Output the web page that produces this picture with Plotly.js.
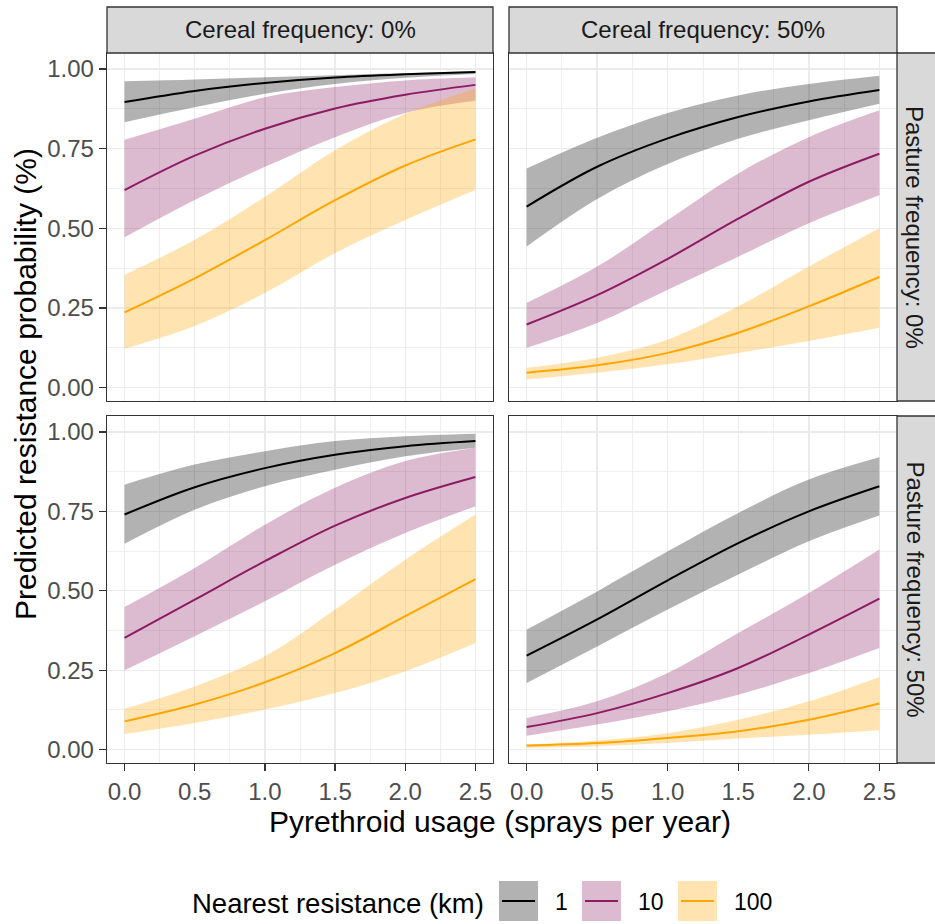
<!DOCTYPE html>
<html>
<head>
<meta charset="utf-8">
<script src="https://cdn.plot.ly/plotly-3.0.1.min.js"></script>
<style>html,body{margin:0;padding:0;background:#fff}</style>
</head>
<body>
<div id="chart" style="width:935px;height:924px"></div>
<script>
// ---- data ----
const usage = [0, 0.5, 1.0, 1.5, 2.0, 2.5];
const distances = ['1', '10', '100'];
const cerealLabels = ['Cereal frequency: 0%', 'Cereal frequency: 50%'];
const pastureLabels = ['Pasture frequency: 0%', 'Pasture frequency: 50%'];
const xTicks = [0, 0.5, 1.0, 1.5, 2.0, 2.5];
const yTicks = [0, 0.25, 0.5, 0.75, 1.0];

// Cereal 0%, Pasture 0%
const fit_c0_p0_d1   = [0.896, 0.931, 0.956, 0.973, 0.983, 0.990];
const lo_c0_p0_d1    = [0.833, 0.880, 0.922, 0.953, 0.972, 0.984];
const hi_c0_p0_d1    = [0.961, 0.967, 0.974, 0.980, 0.987, 0.993];
const fit_c0_p0_d10  = [0.620, 0.728, 0.8125, 0.876, 0.919, 0.950];
const lo_c0_p0_d10   = [0.472, 0.589, 0.693, 0.786, 0.862, 0.900];
const hi_c0_p0_d10   = [0.778, 0.844, 0.911, 0.943, 0.964, 0.974];
const fit_c0_p0_d100 = [0.236, 0.343, 0.463, 0.588, 0.697, 0.779];
const lo_c0_p0_d100  = [0.122, 0.193, 0.297, 0.422, 0.526, 0.620];
const hi_c0_p0_d100  = [0.354, 0.464, 0.599, 0.745, 0.859, 0.9375];

// Cereal 50%, Pasture 0%
const fit_c50_p0_d1   = [0.568, 0.693, 0.782, 0.849, 0.898, 0.934];
const lo_c50_p0_d1    = [0.443, 0.592, 0.702, 0.781, 0.839, 0.891];
const hi_c50_p0_d1    = [0.6875, 0.784, 0.862, 0.917, 0.953, 0.979];
const fit_c50_p0_d10  = [0.198, 0.290, 0.404, 0.530, 0.646, 0.734];
const lo_c50_p0_d10   = [0.125, 0.203, 0.307, 0.411, 0.516, 0.604];
const hi_c50_p0_d10   = [0.266, 0.380, 0.526, 0.672, 0.786, 0.870];
const fit_c50_p0_d100 = [0.047, 0.070, 0.109, 0.172, 0.255, 0.347];
const lo_c50_p0_d100  = [0.026, 0.047, 0.073, 0.109, 0.146, 0.1875];
const hi_c50_p0_d100  = [0.0625, 0.094, 0.151, 0.255, 0.380, 0.500];

// Cereal 0%, Pasture 50%
const fit_c0_p50_d1   = [0.740, 0.826, 0.886, 0.928, 0.955, 0.971];
const lo_c0_p50_d1    = [0.648, 0.755, 0.829, 0.881, 0.923, 0.950];
const hi_c0_p50_d1    = [0.834, 0.897, 0.939, 0.971, 0.986, 0.994];
const fit_c0_p50_d10  = [0.352, 0.472, 0.593, 0.705, 0.792, 0.858];
const lo_c0_p50_d10   = [0.250, 0.357, 0.467, 0.582, 0.682, 0.766];
const hi_c0_p50_d10   = [0.449, 0.572, 0.708, 0.824, 0.908, 0.950];
const fit_c0_p50_d100 = [0.089, 0.142, 0.212, 0.304, 0.420, 0.537];
const lo_c0_p50_d100  = [0.049, 0.084, 0.126, 0.178, 0.247, 0.336];
const hi_c0_p50_d100  = [0.129, 0.199, 0.294, 0.441, 0.598, 0.740];

// Cereal 50%, Pasture 50%
const fit_c50_p50_d1   = [0.296, 0.410, 0.533, 0.650, 0.750, 0.829];
const lo_c50_p50_d1    = [0.210, 0.325, 0.441, 0.551, 0.656, 0.737];
const hi_c50_p50_d1    = [0.378, 0.498, 0.624, 0.745, 0.850, 0.920];
const fit_c50_p50_d10  = [0.071, 0.115, 0.178, 0.257, 0.362, 0.475];
const lo_c50_p50_d10   = [0.044, 0.079, 0.121, 0.173, 0.241, 0.320];
const hi_c50_p50_d10   = [0.100, 0.152, 0.241, 0.367, 0.493, 0.630];
const fit_c50_p50_d100 = [0.013, 0.021, 0.037, 0.058, 0.094, 0.145];
const lo_c50_p50_d100  = [0.005, 0.0105, 0.021, 0.035, 0.047, 0.061];
const hi_c50_p50_d100  = [0.016, 0.029, 0.052, 0.094, 0.152, 0.229];

// ---- styling ----
const FONT = 'Liberation Sans, Arial, Helvetica, sans-serif';
const lineColors = ['#000000', '#8B1C62', '#FFA500'];
const fillColors = ['rgba(0,0,0,0.3)', 'rgba(139,28,98,0.3)', 'rgba(255,165,0,0.3)'];

const panels = [
  {xa: 'x',  ya: 'y',  fit: [fit_c0_p0_d1, fit_c0_p0_d10, fit_c0_p0_d100], lo: [lo_c0_p0_d1, lo_c0_p0_d10, lo_c0_p0_d100], hi: [hi_c0_p0_d1, hi_c0_p0_d10, hi_c0_p0_d100]},
  {xa: 'x2', ya: 'y2', fit: [fit_c50_p0_d1, fit_c50_p0_d10, fit_c50_p0_d100], lo: [lo_c50_p0_d1, lo_c50_p0_d10, lo_c50_p0_d100], hi: [hi_c50_p0_d1, hi_c50_p0_d10, hi_c50_p0_d100]},
  {xa: 'x3', ya: 'y3', fit: [fit_c0_p50_d1, fit_c0_p50_d10, fit_c0_p50_d100], lo: [lo_c0_p50_d1, lo_c0_p50_d10, lo_c0_p50_d100], hi: [hi_c0_p50_d1, hi_c0_p50_d10, hi_c0_p50_d100]},
  {xa: 'x4', ya: 'y4', fit: [fit_c50_p50_d1, fit_c50_p50_d10, fit_c50_p50_d100], lo: [lo_c50_p50_d1, lo_c50_p50_d10, lo_c50_p50_d100], hi: [hi_c50_p50_d1, hi_c50_p50_d10, hi_c50_p50_d100]}
];

const traces = [];
panels.forEach(p => {
  distances.forEach((d, i) => {
    traces.push({x: usage, y: p.lo[i], xaxis: p.xa, yaxis: p.ya, mode: 'lines',
      line: {width: 0, shape: 'spline', smoothing: 1}, hoverinfo: 'skip', showlegend: false});
    traces.push({x: usage, y: p.hi[i], xaxis: p.xa, yaxis: p.ya, mode: 'lines', fill: 'tonexty',
      fillcolor: fillColors[i], line: {width: 0, shape: 'spline', smoothing: 1}, hoverinfo: 'skip', showlegend: false});
  });
  distances.forEach((d, i) => {
    traces.push({x: usage, y: p.fit[i], xaxis: p.xa, yaxis: p.ya, mode: 'lines', name: d,
      line: {color: lineColors[i], width: 2, shape: 'spline', smoothing: 1}, showlegend: false});
  });
});

// ---- layout ----
const W = 935, H = 924;
const px = v => v / W;
const py = v => 1 - v / H;
const colX = [[107, 493], [509, 897]];
const rowY = [[53, 401], [416, 763]];

const grid = {showgrid: true, gridcolor: '#ebebeb', gridwidth: 1.4, zeroline: false,
  showline: true, mirror: true, linecolor: '#333333', linewidth: 1.3,
  tickfont: {family: FONT, size: 24, color: '#4d4d4d'}, tickcolor: '#333333', ticklen: 7, tickwidth: 1.3};

function xax(col, row) {
  const bottom = row === 1;
  return Object.assign({}, grid, {
    domain: [px(colX[col][0]), px(colX[col][1])], range: [-0.125, 2.625],
    anchor: ['y', 'y2', 'y3', 'y4'][row * 2 + col],
    tickmode: 'array', tickvals: xTicks, ticktext: xTicks.map(v => v.toFixed(1)),
    ticks: bottom ? 'outside' : '', showticklabels: bottom,
    minor: {tickmode: 'linear', tick0: 0, dtick: 0.25, showgrid: true, gridcolor: '#ebebeb', gridwidth: 0.8, ticks: ''}
  });
}
function yax(col, row) {
  const left = col === 0;
  return Object.assign({}, grid, {
    domain: [py(rowY[row][1]), py(rowY[row][0])], range: [-0.042, 1.05],
    anchor: ['x', 'x2', 'x3', 'x4'][row * 2 + col],
    tickmode: 'array', tickvals: yTicks, ticktext: yTicks.map(v => v.toFixed(2)),
    ticks: left ? 'outside' : '', showticklabels: left,
    minor: {tickmode: 'linear', tick0: 0.125, dtick: 0.25, showgrid: true, gridcolor: '#ebebeb', gridwidth: 0.8, ticks: ''}
  });
}

const shapes = [];
const annotations = [];
// top strips
cerealLabels.forEach((lab, c) => {
  shapes.push({type: 'rect', xref: 'paper', yref: 'paper', x0: px(colX[c][0]), x1: px(colX[c][1]),
    y0: py(53), y1: py(7), fillcolor: '#d9d9d9', line: {color: '#333333', width: 1.3}, layer: 'above'});
  annotations.push({xref: 'paper', yref: 'paper', x: px((colX[c][0] + colX[c][1]) / 2), y: py(30),
    text: lab, showarrow: false, xanchor: 'center', yanchor: 'middle',
    font: {family: FONT, size: 24, color: '#1a1a1a'}});
});
// right strips
pastureLabels.forEach((lab, r) => {
  shapes.push({type: 'rect', xref: 'paper', yref: 'paper', x0: px(897), x1: px(950),
    y0: py(rowY[r][1]), y1: py(rowY[r][0]), fillcolor: '#d9d9d9', line: {color: '#333333', width: 1.3}, layer: 'above'});
  annotations.push({xref: 'paper', yref: 'paper', x: px(915), y: py((rowY[r][0] + rowY[r][1]) / 2),
    text: lab, showarrow: false, textangle: 90, xanchor: 'center', yanchor: 'middle',
    font: {family: FONT, size: 24, color: '#1a1a1a'}});
});
// axis titles
annotations.push({xref: 'paper', yref: 'paper', x: px(500), y: py(821), text: 'Pyrethroid usage (sprays per year)',
  showarrow: false, xanchor: 'center', yanchor: 'middle', font: {family: FONT, size: 30, color: '#000000'}});
annotations.push({xref: 'paper', yref: 'paper', x: px(25), y: py(384), text: 'Predicted resistance probability (%)',
  showarrow: false, textangle: -90, xanchor: 'center', yanchor: 'middle', font: {family: FONT, size: 30, color: '#000000'}});

// legend (drawn manually: ribbon key box + line)
annotations.push({xref: 'paper', yref: 'paper', x: px(190), y: py(903), text: 'Nearest resistance (km)',
  showarrow: false, xanchor: 'left', yanchor: 'middle', font: {family: FONT, size: 27.5, color: '#000000'}});
const keyX = [499, 582, 678];
distances.forEach((d, i) => {
  const x0 = keyX[i], x1 = keyX[i] + 39;
  shapes.push({type: 'rect', xref: 'paper', yref: 'paper', x0: px(x0), x1: px(x1), y0: py(921), y1: py(881),
    fillcolor: fillColors[i], line: {width: 0}, layer: 'above'});
  shapes.push({type: 'line', xref: 'paper', yref: 'paper', x0: px(x0 + 3), x1: px(x1 - 3), y0: py(901), y1: py(901),
    line: {color: lineColors[i], width: 2.2}, layer: 'above'});
  annotations.push({xref: 'paper', yref: 'paper', x: px(x1 + 15), y: py(902), text: d,
    showarrow: false, xanchor: 'left', yanchor: 'middle', font: {family: FONT, size: 23, color: '#000000'}});
});

const layout = {
  width: W, height: H, autosize: false,
  margin: {l: 0, r: 0, t: 0, b: 0, pad: 0},
  paper_bgcolor: '#ffffff', plot_bgcolor: '#ffffff',
  showlegend: false,
  font: {family: FONT},
  xaxis: xax(0, 0), xaxis2: xax(1, 0), xaxis3: xax(0, 1), xaxis4: xax(1, 1),
  yaxis: yax(0, 0), yaxis2: yax(1, 0), yaxis3: yax(0, 1), yaxis4: yax(1, 1),
  shapes: shapes, annotations: annotations
};

Plotly.newPlot('chart', traces, layout, {displayModeBar: false, staticPlot: true});
</script>
</body>
</html>
